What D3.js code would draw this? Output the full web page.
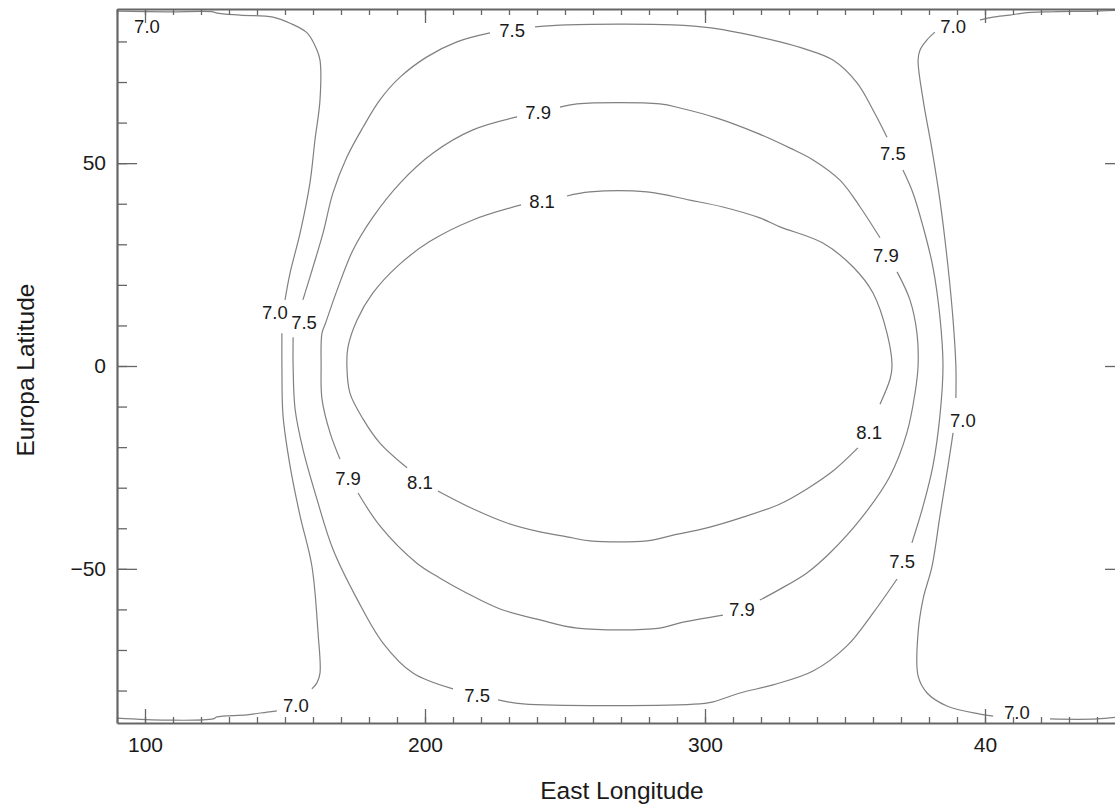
<!DOCTYPE html>
<html>
<head>
<meta charset="utf-8">
<script src="https://cdn.jsdelivr.net/npm/d3@7"></script>
<style>
  body { margin: 0; background: #fff; }
  svg { display: block; font-family: "Liberation Sans", Arial, Helvetica, sans-serif; }
</style>
</head>
<body>
<div id="chart"></div>
<script>
// axis ticks
const xTicks = [100, 200, 300, 400];
const xTickLabels = ["100", "200", "300", "40"];
const yTicks = [-50, 0, 50];
const yTickLabels = ["\u221250", "0", "50"];

// contour lines, [east longitude, latitude]; null = gap left for a label
const contour70Left = [
  [90, 87.5], [107.9, 87.3], [124.3, 87.3], [125.7, 87.0], [133.9, 86.5], [145.7, 86.0],
  [151.8, 84.5], [157.9, 82.1], [161.4, 77.9], [162.5, 75.4], [162.5, 65.6], [160.7, 55.7],
  [158.9, 45.1], [155.4, 32.8], [151.8, 22.9], [150.0, 16.3], null,
  [148.9, 8.1], [148.9, 0], [149.3, -12.3], [151.8, -24.6], [155.4, -37.0], [159.6, -49.3],
  [161.8, -65.8], [162.5, -75.7], [161.4, -78.1], [159.6, -79.6], null,
  [147.1, -85.0], [143.6, -85.3], [136.4, -86.0], [125.7, -86.5], [124.3, -87.0],
  [107.9, -87.3], [90, -86.8],
];
const contour70Right = [
  [450, 87.7], [440, 87.5], [422.1, 87.3], [413.6, 87.0], [408.9, 86.5], [402.9, 86.0],
  [398.2, 85.3], null,
  [382.1, 82.3], [379.3, 80.4], [376.8, 77.9], [376.1, 75.4], [377.9, 65.6], [381.1, 53.2],
  [383.9, 40.9], [386.8, 24.4], [388.6, 11.3], [389.6, 0], [389.6, -7.9], null,
  [388.6, -16.5], [386.8, -24.6], [383.9, -37.0], [381.1, -49.3], [377.9, -57.4],
  [376.1, -65.8], [376.1, -76.4], [379.3, -80.6], [386.4, -83.8], [398.2, -85.8],
  [402.9, -86.3], null,
  [423.2, -87.0], [440, -87.0], [450, -86.3],
];
const contour75 = [
  [239.3, 83.6], [250.7, 84.1], [288.6, 84.1], [302.9, 83.3], [312.5, 82.1], [326.8, 79.9],
  [336.4, 78.0], [345.7, 75.4], [354.3, 69.8], [360.0, 63.1], [365.0, 56.4], null,
  [370.7, 48.3], [374.3, 42.6], [377.9, 34.3], [381.4, 24.4], [383.9, 12.1], [385.0, 0],
  [383.9, -12.3], [381.4, -24.6], [377.9, -34.5], [373.9, -43.6], null,
  [368.6, -52.5], [360.0, -60.9], [350.7, -69.0], [338.6, -75.2], [324.3, -78.6],
  [312.5, -80.6], [302.9, -82.8], [298.2, -83.3], [235.0, -83.3], [226.1, -82.3], null,
  [210.0, -79.6], [195.7, -75.7], [185.0, -68.3], [175.7, -57.4], [167.1, -45.1],
  [161.4, -32.8], [156.4, -20.5], [153.6, -10.6], [152.9, 0], [152.9, 7.1], null,
  [156.4, 16.3], [160.0, 24.4], [163.6, 32.8], [167.1, 42.6], [172.1, 51.5], [177.9, 58.9],
  [183.9, 65.6], [191.1, 71.2], [200.7, 76.2], [211.4, 79.9], [223.2, 82.1],
];
const contour79 = [
  [248.2, 63.8], [254.3, 64.6], [283.9, 64.6], [291.1, 63.6], [304.3, 61.1], [318.6, 57.4],
  [330.4, 53.7], [338.6, 50.8], [348.2, 45.8], [355.4, 39.2], [362.5, 31.6], null,
  [368.6, 23.2], [373.2, 16.3], [375.7, 8.1], [376.1, 0], [375.0, -6.7], [372.1, -16.5],
  [366.1, -27.1], [356.4, -37.0], [344.6, -46.1], [336.4, -51.0], [326.8, -55.0],
  [319.6, -57.7], null,
  [306.4, -61.4], [291.1, -63.3], [283.9, -64.6], [254.3, -64.6], [241.1, -62.6],
  [226.8, -59.9], [215.0, -56.0], [205.4, -52.3], [197.1, -48.6], [183.9, -39.4],
  [176.1, -31.3], null,
  [169.6, -22.9], [166.1, -16.5], [163.2, -8.1], [162.9, 0], [163.2, 8.1], [164.5, 10.6],
  [168.6, 18.7], [174.3, 28.6], [181.4, 36.7], [191.1, 45.1], [202.9, 52.5], [217.1, 58.2],
  [232.9, 61.4],
];
const contour81 = [
  [250.7, 41.9], [258.9, 42.9], [279.3, 42.9], [294.6, 40.9], [306.4, 39.2], [319.6, 36.5],
  [326.8, 34.3], [342.1, 30.3], [352.9, 24.4], [360.0, 18.0], [365.0, 8.1], [366.8, 0],
  [366.1, -3.2], [362.5, -9.4], null,
  [354.6, -20.2], [345.7, -25.9], [336.4, -30.3], [326.8, -34.0], [312.5, -37.5],
  [300.7, -39.9], [288.6, -41.7], [279.3, -43.1], [258.9, -43.1], [250.7, -42.1],
  [241.1, -40.9], [229.3, -38.7], [217.1, -35.2], [204.6, -30.8], null,
  [193.6, -25.1], [183.9, -19.0], [177.9, -13.1], [173.2, -6.7], [172.1, 0], [172.5, 4.7],
  [175.7, 11.3], [181.4, 18.0], [190.5, 24.8], [201.5, 30.6], [217.1, 36.0], [234.3, 39.7],
];

// contour labels: [lon, lat, text]
const contourLabels = [
  [100.7, 83.8, "7.0"], [388.6, 83.8, "7.0"], [146.4, 13.3, "7.0"], [392.1, -13.3, "7.0"],
  [153.9, -83.6, "7.0"], [411.4, -85.3, "7.0"],
  [231.1, 82.8, "7.5"], [367.1, 52.5, "7.5"], [156.8, 10.8, "7.5"], [370.4, -48.1, "7.5"],
  [218.6, -81.1, "7.5"],
  [240.4, 62.6, "7.9"], [364.6, 27.4, "7.9"], [172.5, -27.6, "7.9"], [313.2, -59.9, "7.9"],
  [241.8, 40.7, "8.1"], [198.2, -28.8, "8.1"], [358.6, -16.3, "8.1"],
];

const width = 1115;
const height = 806;
const axisColor = "#666";
const textColor = "#1a1a1a";

const svg = d3
  .select("#chart")
  .append("svg")
  .attr("width", width)
  .attr("height", height);

const xScale = d3.scaleLinear().domain([90, 450]).range([117, 1125]);
const yScale = d3.scaleLinear().domain([-88, 88]).range([723, 9]);

svg
  .append("clipPath")
  .attr("id", "plot")
  .append("rect")
  .attr("x", 117)
  .attr("y", 9)
  .attr("width", 1008)
  .attr("height", 714);

const line = d3
  .line()
  .defined((d) => d !== null)
  .curve(d3.curveCatmullRom.alpha(0.5))
  .x((d) => xScale(d[0]))
  .y((d) => yScale(d[1]));

svg
  .append("g")
  .attr("clip-path", "url(#plot)")
  .selectAll("path")
  .data([contour70Left, contour70Right, contour75, contour79, contour81])
  .join("path")
  .attr("d", line)
  .attr("fill", "none")
  .attr("stroke", "#808080")
  .attr("stroke-width", 1.2);

svg
  .append("g")
  .selectAll("text")
  .data(contourLabels)
  .join("text")
  .attr("x", (d) => xScale(d[0]))
  .attr("y", (d) => yScale(d[1]))
  .attr("dy", "0.36em")
  .attr("text-anchor", "middle")
  .attr("font-size", 18.5)
  .attr("fill", textColor)
  .text((d) => d[2]);

// axes, ticks pointing inward on all four sides
const xMinor = d3.range(90, 451, 10);
const yMinor = d3.range(-80, 81, 10);

const styleAxis = (g, keepDomain) => {
  g.selectAll(".tick line").attr("stroke", axisColor).attr("stroke-width", 1.3);
  if (keepDomain) g.select(".domain").attr("stroke", axisColor).attr("stroke-width", 2.2);
  else g.select(".domain").remove();
  g.selectAll("text").attr("fill", textColor).attr("font-size", 21);
  g.attr("font-family", null).attr("font-size", null);
};

svg
  .append("g")
  .attr("transform", `translate(0, ${yScale(-88)})`)
  .call(d3.axisBottom(xScale).tickValues(xMinor).tickSize(-6).tickFormat(""))
  .call((g) => styleAxis(g, false));
svg
  .append("g")
  .attr("transform", `translate(0, ${yScale(-88)})`)
  .call(
    d3.axisBottom(xScale).tickValues(xTicks).tickSize(-14).tickSizeOuter(0).tickPadding(14)
      .tickFormat((d, i) => xTickLabels[i])
  )
  .call((g) => styleAxis(g, true));

svg
  .append("g")
  .attr("transform", `translate(0, ${yScale(88)})`)
  .call(d3.axisTop(xScale).tickValues(xMinor).tickSize(-6).tickFormat(""))
  .call((g) => styleAxis(g, false));
svg
  .append("g")
  .attr("transform", `translate(0, ${yScale(88)})`)
  .call(d3.axisTop(xScale).tickValues(xTicks).tickSize(-14).tickSizeOuter(0).tickFormat(""))
  .call((g) => styleAxis(g, true));

svg
  .append("g")
  .attr("transform", `translate(${xScale(90)}, 0)`)
  .call(d3.axisLeft(yScale).tickValues(yMinor).tickSize(-10).tickFormat(""))
  .call((g) => styleAxis(g, false));
svg
  .append("g")
  .attr("transform", `translate(${xScale(90)}, 0)`)
  .call(
    d3.axisLeft(yScale).tickValues(yTicks).tickSize(-20).tickSizeOuter(0).tickPadding(11)
      .tickFormat((d, i) => yTickLabels[i])
  )
  .call((g) => styleAxis(g, true));

svg
  .append("g")
  .attr("transform", `translate(${xScale(450)}, 0)`)
  .call(d3.axisRight(yScale).tickValues(yMinor).tickSize(-10).tickFormat(""))
  .call((g) => styleAxis(g, false));
svg
  .append("g")
  .attr("transform", `translate(${xScale(450)}, 0)`)
  .call(d3.axisRight(yScale).tickValues(yTicks).tickSize(-20).tickSizeOuter(0).tickFormat(""))
  .call((g) => styleAxis(g, true));

// axis titles
svg
  .append("text")
  .attr("x", 622)
  .attr("y", 799)
  .attr("text-anchor", "middle")
  .attr("font-size", 24.5)
  .attr("fill", textColor)
  .text("East Longitude");

svg
  .append("text")
  .attr("transform", "translate(34, 370) rotate(-90)")
  .attr("text-anchor", "middle")
  .attr("font-size", 24.5)
  .attr("fill", textColor)
  .text("Europa Latitude");
</script>
</body>
</html>
